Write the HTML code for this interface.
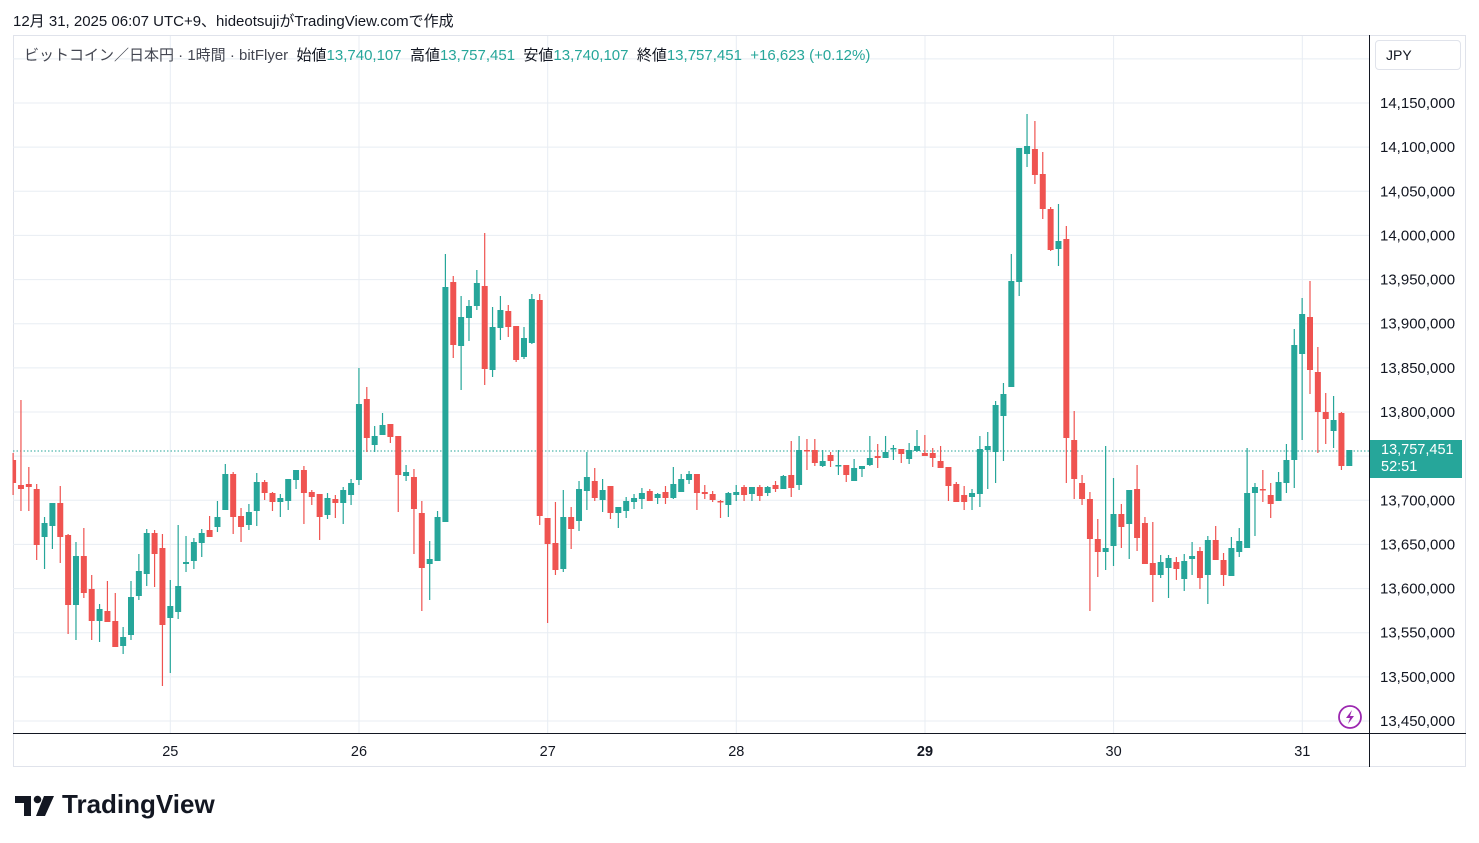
<!DOCTYPE html>
<html><head><meta charset="utf-8">
<style>
body{margin:0;background:#fff;width:1479px;height:843px;overflow:hidden;font-family:"Liberation Sans","Noto Sans CJK JP",sans-serif;color:#131722}
.t{position:absolute;white-space:nowrap}
</style></head><body>
<div class="t" style="left:13px;top:10px;font-size:15px">12月 31, 2025 06:07 UTC+9、hideotsujiがTradingView.comで作成</div>
<svg id="s" width="1479" height="843" style="position:absolute;left:0;top:0" xmlns="http://www.w3.org/2000/svg"></svg>
<div class="t" style="left:24px;top:44px;font-size:15px;color:#434651">ビットコイン／日本円 · 1時間 · bitFlyer&nbsp;&nbsp;<span style="color:#131722">始値</span><span style="color:#26a69a">13,740,107</span>&nbsp;&nbsp;<span style="color:#131722">高値</span><span style="color:#26a69a">13,757,451</span>&nbsp;&nbsp;<span style="color:#131722">安値</span><span style="color:#26a69a">13,740,107</span>&nbsp;&nbsp;<span style="color:#131722">終値</span><span style="color:#26a69a">13,757,451</span>&nbsp;&nbsp;<span style="color:#26a69a">+16,623 (+0.12%)</span></div>
<div class="t" style="left:1375px;top:40px;width:86px;height:30px;border:1px solid #e0e3eb;border-radius:4px;box-sizing:border-box;font-size:14px;line-height:28px;padding-left:10px">JPY</div>
<div class="t" style="left:1370px;top:440px;width:92px;height:38px;background:#26a69a;color:#fff;font-size:14.5px;line-height:17px;padding:2px 0 0 11px;box-sizing:border-box">13,757,451<br>52:51</div>
<div class="t" style="left:62px;top:789px;font-size:26px;font-weight:bold;color:#131722">TradingView</div>
<script>
const S=document.getElementById('s');let h='';
const G='#26a69a',R='#ef5350',GR='#e8edf3';
h+=`<rect x="13.5" y="35.5" width="1452" height="731" fill="none" stroke="#e0e3eb"/>`;
for(let n=-1;n<=14;n++){const y=103+n*44.143;if(y>36&&y<733)h+=`<line x1="13" x2="1369" y1="${y}" y2="${y}" stroke="${GR}"/>`;}
const days=[['25',170.3],['26',359],['27',547.7],['28',736.3],['29',925],['30',1113.6],['31',1302.3]];
days.forEach(d=>{h+=`<line x1="${d[1]}" x2="${d[1]}" y1="36" y2="733" stroke="${GR}"/>`;
h+=`<text x="${d[1]}" y="756" font-size="14.5" text-anchor="middle" fill="#131722" font-family="Liberation Sans" ${d[0]=='29'?'font-weight="bold"':''}>${d[0]}</text>`;});
for(let n=0;n<=14;n++){const y=103+n*44.143;const p=14150000-n*50000;
 if(Math.abs(y-451)<14||Math.abs(y-469)<14&&n==9) continue;
 h+=`<text x="1380" y="${y+5}" font-size="15" fill="#131722" font-family="Liberation Sans">${p.toLocaleString('en-US')}</text>`;}
const C=[[460,483,453,495,'r'],[485,489,400,511,'r'],[484,487,467,511,'r'],[489,545,484,560,'r'],[537,523,569,517,'g'],[526,503,549,503,'g'],[503,537,486,563,'r'],[535,605,534,634,'r'],[605,556,640,542,'g'],[556,593,528,598,'r'],[589,621,575,640,'r'],[621,609,642,604,'g'],[611,622,581,622,'r'],[621,647,593,647,'r'],[646,637,654,627,'g'],[635,597,640,581,'g'],[596,571,600,554,'g'],[574,533,586,529,'g'],[533,554,530,587,'r'],[548,625,534,686,'r'],[618,606,673,580,'g'],[612,586,619,525,'g'],[564,562,572,536,'g'],[561,542,569,538,'g'],[543,533,557,529,'g'],[530,537,516,537,'r'],[527,517,532,501,'g'],[510,474,510,464,'g'],[474,517,472,534,'r'],[516,527,508,542,'r'],[525,512,530,504,'g'],[511,482,526,473,'g'],[482,493,480,500,'r'],[493,502,492,511,'r'],[502,498,517,494,'g'],[501,479,510,479,'g'],[480,470,489,470,'g'],[470,493,466,524,'r'],[492,497,490,505,'r'],[494,517,494,540,'r'],[515,498,519,493,'g'],[499,503,495,518,'r'],[503,490,524,487,'g'],[495,483,505,479,'g'],
[480,404,485,368,'g'],[399,438,387,452,'r'],[445,436,452,426,'g'],[435,425,435,413,'g'],[424,437,424,443,'r'],[436,475,436,512,'r'],[476,472,481,465,'g'],[477,509,469,554,'r'],[513,568,501,611,'r'],[564,559,600,541,'g'],[561,517,561,511,'g'],[522,287,522,254,'g'],[282,345,276,358,'r'],[346,317,390,296,'g'],[318,306,341,300,'g'],[306,283,310,270,'g'],[286,369,233,385,'r'],[370,327,377,307,'g'],[328,310,340,296,'g'],[311,327,305,337,'r'],[326,360,326,362,'r'],[357,338,359,327,'g'],[343,299,344,294,'g'],[300,516,294,525,'r'],[518,544,518,623,'r'],[543,570,502,575,'r'],[569,517,572,490,'g'],[517,529,507,549,'r'],[521,489,531,481,'g'],[491,477,510,452,'g'],[481,498,468,501,'r'],[500,490,512,479,'g'],[486,513,486,519,'r'],[513,507,528,507,'g'],[511,501,518,497,'g'],[502,498,509,494,'g'],[499,493,509,488,'g'],[491,501,489,501,'r'],[498,494,504,493,'g'],[492,498,486,504,'r'],[498,484,499,467,'g'],[492,479,492,474,'g'],[480,474,484,471,'g'],
[474,493,474,510,'r'],[492,494,485,499,'r'],[494,500,491,502,'r'],[501,502,500,518,'r'],[505,493,517,492,'g'],[495,492,501,485,'g'],[487,495,485,501,'r'],[494,487,501,487,'g'],[487,496,485,501,'r'],[493,487,496,486,'g'],[485,489,481,492,'r'],[489,476,489,475,'g'],[475,488,441,497,'r'],[485,450,490,436,'g'],[450,451,439,470,'r'],[450,463,439,466,'r'],[466,461,467,450,'g'],[455,461,452,467,'r'],[466,465,475,450,'g'],[465,475,465,482,'r'],[481,468,481,459,'g'],[469,466,477,466,'g'],[465,458,466,436,'g'],[456,458,444,468,'r'],[458,452,458,436,'g'],[449,448,460,445,'g'],[449,454,449,463,'r'],[459,450,464,443,'g'],[451,446,452,430,'g'],[453,456,435,456,'r'],[453,458,448,467,'r'],[461,468,446,468,'r'],[467,486,467,501,'r'],[484,502,482,502,'r'],[495,502,486,510,'r'],[497,493,510,489,'g'],[494,449,507,436,'g'],[450,446,489,432,'g'],[452,405,483,401,'g'],[416,394,461,383,'g'],[387,281,387,254,'g'],[282,148,296,148,'g'],[154,146,167,114,'g'],[149,175,121,184,'r'],[174,209,152,219,'r'],[209,250,207,251,'r'],[249,241,266,204,'g'],[239,438,226,483,'r'],[440,479,411,499,'r'],[483,499,475,505,'r'],[499,539,492,611,'r'],[539,552,519,577,'r'],[552,548,570,446,'g'],[546,514,566,478,'g'],[514,527,504,548,'r'],[524,490,559,490,'g'],[489,538,465,551,'r'],[523,564,517,564,'r'],[563,575,522,602,'r'],[575,562,578,555,'g'],[568,558,598,555,'g'],[562,569,557,580,'r'],[579,561,591,554,'g'],[559,556,575,542,'g'],[551,578,547,589,'r'],[575,540,604,536,'g'],[540,560,526,560,'r'],[560,575,553,586,'r'],[576,548,576,537,'g'],[552,541,557,528,'g'],[548,493,548,448,'g'],[493,487,536,483,'g'],[489,490,470,502,'r'],[495,504,483,518,'r'],[501,482,501,472,'g'],[483,460,493,444,'g'],[460,345,488,329,'g'],[354,314,440,298,'g'],[317,370,281,394,'r'],[372,412,347,453,'r'],[412,419,393,444,'r'],[431,420,448,396,'g'],[413,466,412,470,'r'],[466,450,466,450,'g']];
h+=`<line x1="13" x2="1369" y1="451" y2="451" stroke="${G}" stroke-dasharray="1.5 2"/>`;
C.forEach((c,i)=>{const x=170.3+(i-20)*7.86;const col=c[4]=='g'?G:R;
 const top=Math.min(c[0],c[1]),bot=Math.max(c[0],c[1]),hi=Math.min(c[2],c[3]),lo=Math.max(c[2],c[3]);
 const xl=Math.max(13,x-3);
 h+=`<line x1="${x}" x2="${x}" y1="${hi}" y2="${lo}" stroke="${col}" stroke-width="1.2"/>`;
 h+=`<rect x="${xl}" y="${top}" width="${x+3-xl}" height="${Math.max(1.5,bot-top)}" fill="${col}"/>`;});
h+=`<line x1="13" x2="1466" y1="733.5" y2="733.5" stroke="#131722"/>`;
h+=`<line x1="1369.5" x2="1369.5" y1="35" y2="767" stroke="#131722"/>`;
h+=`<circle cx="1350" cy="717" r="11" fill="none" stroke="#9c27b0" stroke-width="1.8"/><path d="M1352 710 L1346 718 L1350 718 L1348 724 L1354 716 L1350 716 Z" fill="#9c27b0"/>`;
h+=`<path d="M15 796 H31 V816 H24 V803 H15 Z" fill="#131722"/><circle cx="37.5" cy="799.5" r="3.8" fill="#131722"/><path d="M44 796 H54 L45 816 H36 Z" fill="#131722"/>`;
S.innerHTML=h;
</script>
</body></html>
